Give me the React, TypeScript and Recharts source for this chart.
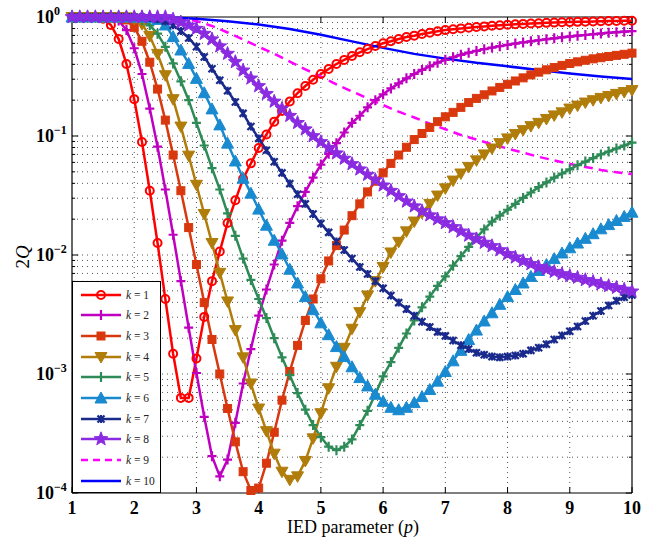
import React from "react";
import { LineChart, Line, XAxis, YAxis, ReferenceLine } from "recharts";

// IED parameter p, step 1/8
const P = [
  1, 1.125, 1.25, 1.375, 1.5, 1.625, 1.75, 1.875,
  2, 2.125, 2.25, 2.375, 2.5, 2.625, 2.75, 2.875,
  3, 3.125, 3.25, 3.375, 3.5, 3.625, 3.75, 3.875,
  4, 4.125, 4.25, 4.375, 4.5, 4.625, 4.75, 4.875,
  5, 5.125, 5.25, 5.375, 5.5, 5.625, 5.75, 5.875,
  6, 6.125, 6.25, 6.375, 6.5, 6.625, 6.75, 6.875,
  7, 7.125, 7.25, 7.375, 7.5, 7.625, 7.75, 7.875,
  8, 8.125, 8.25, 8.375, 8.5, 8.625, 8.75, 8.875,
  9, 9.125, 9.25, 9.375, 9.5, 9.625, 9.75, 9.875,
  10,
];

const K1 = [
  1, 1, 1, 0.995, 0.966, 0.857, 0.653, 0.403,
  0.204, 0.0891, 0.0347, 0.0126, 4.27e-3, 1.48e-3, 6.3e-4, 6.3e-4,
  1.35e-3, 3.02e-3, 6.03e-3, 0.0107, 0.0186, 0.0288, 0.0437, 0.0589,
  0.0794, 0.103, 0.132, 0.162, 0.195, 0.229, 0.263, 0.297,
  0.332, 0.366, 0.403, 0.436, 0.47, 0.505, 0.538, 0.57,
  0.601, 0.625, 0.653, 0.679, 0.697, 0.719, 0.738, 0.759,
  0.776, 0.789, 0.802, 0.813, 0.824, 0.834, 0.843, 0.853,
  0.861, 0.869, 0.875, 0.881, 0.887, 0.893, 0.897, 0.902,
  0.906, 0.91, 0.914, 0.918, 0.92, 0.925, 0.927, 0.929,
  0.931,
];

const K2 = [
  1, 1, 1, 1, 1, 0.989, 0.933, 0.776,
  0.546, 0.332, 0.17, 0.0813, 0.0355, 0.0148, 6.03e-3, 2.45e-3,
  1.02e-3, 4.37e-4, 2.04e-4, 1.38e-4, 1.91e-4, 3.89e-4, 8.32e-4, 1.62e-3,
  3.09e-3, 5.13e-3, 8.32e-3, 0.0132, 0.0186, 0.0257, 0.0339, 0.0447,
  0.0575, 0.0708, 0.0871, 0.107, 0.129, 0.148, 0.174, 0.2,
  0.224, 0.251, 0.277, 0.305, 0.332, 0.359, 0.385, 0.413,
  0.437, 0.459, 0.481, 0.501, 0.519, 0.537, 0.553, 0.569,
  0.583, 0.598, 0.612, 0.625, 0.638, 0.65, 0.662, 0.675,
  0.685, 0.697, 0.706, 0.716, 0.726, 0.736, 0.745, 0.753,
  0.762,
];

const K3 = [
  1, 1, 1, 1, 1, 1, 0.993, 0.944,
  0.818, 0.625, 0.417, 0.248, 0.136, 0.0692, 0.0347, 0.017,
  8.32e-3, 3.98e-3, 1.95e-3, 1.0e-3, 5.13e-4, 2.69e-4, 1.51e-4, 1.05e-4,
  1.1e-4, 1.78e-4, 3.24e-4, 6.03e-4, 1.05e-3, 1.74e-3, 2.82e-3, 4.27e-3,
  6.31e-3, 8.91e-3, 0.012, 0.0162, 0.0214, 0.0269, 0.0339, 0.0417,
  0.049, 0.0589, 0.0692, 0.0804, 0.0933, 0.105, 0.118, 0.132,
  0.145, 0.158, 0.174, 0.191, 0.207, 0.222, 0.239, 0.256,
  0.272, 0.29, 0.308, 0.326, 0.344, 0.36, 0.376, 0.392,
  0.407, 0.42, 0.433, 0.445, 0.455, 0.466, 0.476, 0.486,
  0.497,
];

const K4 = [
  1, 1, 1, 1, 1, 1, 1, 0.993,
  0.966, 0.871, 0.692, 0.49, 0.324, 0.204, 0.12, 0.0684,
  0.0389, 0.0221, 0.0126, 7.08e-3, 4.07e-3, 2.34e-3, 1.38e-3, 8.32e-4,
  5.13e-4, 3.31e-4, 2.14e-4, 1.51e-4, 1.29e-4, 1.38e-4, 1.86e-4, 2.88e-4,
  4.68e-4, 7.59e-4, 1.15e-3, 1.66e-3, 2.4e-3, 3.31e-3, 4.57e-3, 6.03e-3,
  7.94e-3, 0.0105, 0.0129, 0.0158, 0.0191, 0.0226, 0.0269, 0.0316,
  0.0363, 0.0422, 0.0484, 0.055, 0.0624, 0.07, 0.0785, 0.0871,
  0.0955, 0.104, 0.112, 0.121, 0.129, 0.139, 0.149, 0.158,
  0.17, 0.18, 0.191, 0.2, 0.209, 0.217, 0.226, 0.234,
  0.243,
];

const K5 = [
  1, 1, 1, 1, 1, 1, 1, 1,
  0.977, 0.933, 0.851, 0.724, 0.562, 0.407, 0.288, 0.2,
  0.129, 0.0832, 0.0537, 0.0355, 0.0224, 0.0145, 9.33e-3, 6.17e-3,
  4.27e-3, 2.95e-3, 2.0e-3, 1.38e-3, 9.77e-4, 6.92e-4, 5.01e-4, 3.72e-4,
  2.95e-4, 2.45e-4, 2.29e-4, 2.45e-4, 2.82e-4, 3.72e-4, 4.9e-4, 6.76e-4,
  9.55e-4, 1.26e-3, 1.66e-3, 2.19e-3, 2.82e-3, 3.63e-3, 4.47e-3, 5.5e-3,
  6.61e-3, 8.13e-3, 9.77e-3, 0.0117, 0.014, 0.0164, 0.0191, 0.0214,
  0.024, 0.0269, 0.0302, 0.0335, 0.0372, 0.0407, 0.0447, 0.0484,
  0.0525, 0.0569, 0.061, 0.0653, 0.07, 0.0741, 0.0785, 0.0832,
  0.0879,
];

const K6 = [
  1, 1, 1, 1, 1, 1, 1, 1,
  1, 1, 0.989, 0.955, 0.857, 0.684, 0.528, 0.407,
  0.305, 0.231, 0.169, 0.124, 0.0871, 0.0617, 0.0442, 0.0331,
  0.0243, 0.0178, 0.0133, 0.0102, 7.59e-3, 5.82e-3, 4.47e-3, 3.47e-3,
  2.69e-3, 2.14e-3, 1.7e-3, 1.4e-3, 1.15e-3, 9.33e-4, 7.94e-4, 6.76e-4,
  5.89e-4, 5.25e-4, 5.01e-4, 5.25e-4, 5.75e-4, 6.46e-4, 7.41e-4, 8.71e-4,
  1.05e-3, 1.29e-3, 1.58e-3, 1.95e-3, 2.34e-3, 2.79e-3, 3.27e-3, 3.85e-3,
  4.47e-3, 5.13e-3, 5.82e-3, 6.61e-3, 7.41e-3, 8.32e-3, 9.33e-3, 0.0104,
  0.0115, 0.0126, 0.0138, 0.0151, 0.0166, 0.018, 0.0195, 0.0211,
  0.0229,
];

const K7 = [
  1, 1, 1, 1, 1, 1, 1, 1,
  1, 0.993, 0.982, 0.959, 0.923, 0.851, 0.762, 0.667,
  0.562, 0.461, 0.368, 0.294, 0.24, 0.193, 0.155, 0.12,
  0.0955, 0.0759, 0.0608, 0.049, 0.0398, 0.0324, 0.0269, 0.0221,
  0.0184, 0.0155, 0.013, 0.011, 9.33e-3, 7.94e-3, 6.92e-3, 6.03e-3,
  5.25e-3, 4.57e-3, 3.98e-3, 3.51e-3, 3.09e-3, 2.75e-3, 2.48e-3, 2.26e-3,
  2.09e-3, 1.91e-3, 1.74e-3, 1.62e-3, 1.51e-3, 1.45e-3, 1.4e-3, 1.38e-3,
  1.4e-3, 1.43e-3, 1.48e-3, 1.58e-3, 1.66e-3, 1.78e-3, 1.95e-3, 2.11e-3,
  2.29e-3, 2.51e-3, 2.79e-3, 3.09e-3, 3.39e-3, 3.76e-3, 4.12e-3, 4.42e-3,
  4.62e-3,
];

const K8 = [
  1, 1, 1, 1, 1, 1, 1, 1,
  1, 1, 1, 1, 1, 0.955, 0.902, 0.851,
  0.798, 0.724, 0.65, 0.568, 0.492, 0.419, 0.356, 0.305,
  0.263, 0.226, 0.195, 0.17, 0.148, 0.129, 0.114, 0.1,
  0.0891, 0.0794, 0.0716, 0.0646, 0.0582, 0.0525, 0.0473, 0.0427,
  0.0385, 0.0347, 0.0313, 0.0282, 0.0257, 0.0234, 0.0216, 0.02,
  0.0186, 0.0172, 0.0158, 0.0146, 0.0136, 0.0127, 0.0119, 0.011,
  0.0102, 9.55e-3, 8.91e-3, 8.41e-3, 7.94e-3, 7.59e-3, 7.24e-3, 6.92e-3,
  6.68e-3, 6.46e-3, 6.17e-3, 5.96e-3, 5.69e-3, 5.5e-3, 5.31e-3, 5.13e-3,
  4.95e-3,
];

// k = 9 and k = 10 have no markers: coarser sampling
const P9 = [
  1, 1.25, 1.5, 1.75, 2, 2.25, 2.5, 2.75, 3, 3.25, 3.5, 3.75, 4, 4.25, 4.5, 4.75,
  5, 5.25, 5.5, 5.75, 6, 6.25, 6.5, 6.75, 7, 7.25, 7.5, 7.75, 8, 8.25, 8.5, 8.75,
  9, 9.25, 9.5, 9.75, 10,
];
const K9 = [
  1, 1, 1, 1, 1, 0.995, 0.986, 0.966, 0.925, 0.841, 0.741, 0.646, 0.562, 0.49, 0.422, 0.363,
  0.316, 0.272, 0.237, 0.207, 0.182, 0.16, 0.143, 0.127, 0.114, 0.102, 0.0933, 0.0851, 0.0785, 0.0724, 0.0668, 0.0624,
  0.0582, 0.055, 0.0519, 0.0495, 0.0479,
];

const P10 = [1, 1.5, 2, 2.5, 3, 3.5, 4, 4.5, 5, 5.5, 6, 6.5, 7, 7.5, 8, 8.5, 9, 9.5, 10];
const K10 = [1, 1, 1, 0.993, 0.966, 0.923, 0.865, 0.794, 0.708, 0.624, 0.55, 0.49, 0.447, 0.412, 0.385, 0.359, 0.335, 0.316, 0.301];

const X_TICKS = [1, 2, 3, 4, 5, 6, 7, 8, 9, 10];
const Y_TICKS = [1e-4, 1e-3, 1e-2, 1e-1, 1];
const Y_MINOR = [
  2e-4, 3e-4, 4e-4, 5e-4, 6e-4, 7e-4, 8e-4, 9e-4,
  2e-3, 3e-3, 4e-3, 5e-3, 6e-3, 7e-3, 8e-3, 9e-3,
  0.02, 0.03, 0.04, 0.05, 0.06, 0.07, 0.08, 0.09,
  0.2, 0.3, 0.4, 0.5, 0.6, 0.7, 0.8, 0.9,
];

const SERIES = [
  { key: "k1", label: "1", color: "#ff0000", shape: "circle", values: K1 },
  { key: "k2", label: "2", color: "#c000c0", shape: "plus", values: K2 },
  { key: "k3", label: "3", color: "#d9380f", shape: "square", values: K3 },
  { key: "k4", label: "4", color: "#b07d0b", shape: "tdown", values: K4 },
  { key: "k5", label: "5", color: "#2e8b57", shape: "plus", values: K5 },
  { key: "k6", label: "6", color: "#1a8ad0", shape: "tup", values: K6 },
  { key: "k7", label: "7", color: "#1a2a8c", shape: "aster", values: K7 },
  { key: "k8", label: "8", color: "#8a2be2", shape: "star", values: K8 },
];

const tableData = P.map((p, i) => {
  const row: any = { p };
  SERIES.forEach((s) => (row[s.key] = s.values[i]));
  return row;
});
const data9 = P9.map((p, i) => ({ p, v: K9[i] }));
const data10 = P10.map((p, i) => ({ p, v: K10[i] }));

const FONT = "'Liberation Serif', 'Times New Roman', serif";
const LW = 2.5;

function starPath(cx: number, cy: number, ro: number, ri: number) {
  let d = "";
  for (let i = 0; i < 10; i++) {
    const r = i % 2 === 0 ? ro : ri;
    const a = -Math.PI / 2 + (i * Math.PI) / 5;
    d += (i === 0 ? "M" : "L") + (cx + r * Math.cos(a)).toFixed(2) + "," + (cy + r * Math.sin(a)).toFixed(2);
  }
  return d + "Z";
}

const Marker = ({ shape, cx, cy, color }: any) => {
  if (cx == null || cy == null) return null;
  switch (shape) {
    case "circle":
      return <circle cx={cx} cy={cy} r={4} fill="none" stroke={color} strokeWidth={2} />;
    case "plus":
      return <path d={`M${cx - 4.5},${cy}H${cx + 4.5}M${cx},${cy - 5}V${cy + 5}`} stroke={color} strokeWidth={2.2} fill="none" />;
    case "square":
      return <rect x={cx - 4} y={cy - 4} width={8} height={8} fill={color} stroke={color} strokeWidth={1} />;
    case "tdown":
      return <path d={`M${cx - 6},${cy - 4.5}L${cx + 6},${cy - 4.5}L${cx},${cy + 6}Z`} fill={color} stroke={color} strokeWidth={1} />;
    case "tup":
      return <path d={`M${cx - 6},${cy + 5}L${cx + 6},${cy + 5}L${cx},${cy - 6}Z`} fill={color} stroke={color} strokeWidth={1} />;
    case "aster":
      return (
        <path
          d={`M${cx - 3.5},${cy - 3.5}L${cx + 3.5},${cy + 3.5}M${cx + 3.5},${cy - 3.5}L${cx - 3.5},${cy + 3.5}M${cx},${cy - 4}V${cy + 4}`}
          stroke={color}
          strokeWidth={2.2}
          fill="none"
        />
      );
    case "star":
      return <path d={starPath(cx, cy, 7.2, 3)} fill={color} stroke={color} strokeWidth={1} />;
    default:
      return null;
  }
};

const XTick = ({ x, y, payload }: any) => (
  <text x={x} y={y + 21} textAnchor="middle" fontFamily={FONT} fontWeight="bold" fontSize={18} fill="#000">
    {payload.value}
  </text>
);

const YTick = ({ x, y, payload }: any) => {
  const e = Math.round(Math.log10(payload.value));
  return (
    <text x={x - 36} y={y + 6} fontFamily={FONT} fontWeight="bold" fontSize={18} fill="#000">
      <tspan>10</tspan>
      <tspan dy={-8} fontSize={12}>{e === 0 ? "0" : "\u2212" + Math.abs(e)}</tspan>
    </text>
  );
};

const YLabel = () => (
  <text x={0} y={0} transform="translate(29,257) rotate(-90)" textAnchor="middle" fontFamily={FONT} fontSize={19} fill="#000">
    <tspan>2</tspan>
    <tspan fontStyle="italic">Q</tspan>
  </text>
);

const XLabel = () => (
  <text x={353} y={533} textAnchor="middle" fontFamily={FONT} fontSize={18} fill="#000">
    <tspan>IED parameter (</tspan>
    <tspan fontStyle="italic">p</tspan>
    <tspan>)</tspan>
  </text>
);

const LegendBox = () => (
  <div
    style={{
      position: "absolute",
      left: 72,
      top: 281,
      width: 89,
      height: 212,
      border: "1px solid #000",
      background: "#fff",
      boxSizing: "border-box",
    }}
  >
    {[...SERIES.map((s) => ({ ...s, dash: undefined as any })),
      { key: "k9", label: "9", color: "#ff00ff", shape: "none", dash: "7 5" },
      { key: "k10", label: "10", color: "#0000ff", shape: "none", dash: undefined }].map((s, i) => (
      <svg
        key={s.key}
        width={87}
        height={20}
        style={{ position: "absolute", left: 0, top: 2.5 + i * 20.7 }}
      >
        <line x1={8} x2={48} y1={10} y2={10} stroke={s.color} strokeWidth={LW} strokeDasharray={s.dash} />
        <Marker shape={s.shape} cx={28} cy={10} color={s.color} />
        <text x={53} y={14} fontFamily={FONT} fontSize={11.5} fill="#222">
          <tspan fontStyle="italic">k</tspan>
          <tspan> = {s.label}</tspan>
        </text>
      </svg>
    ))}
  </div>
);

export default function App() {
  return (
    <div style={{ position: "absolute", left: 0, top: 0, width: 656, height: 541, background: "#fff" }}>
      <LineChart width={656} height={541} data={tableData} margin={{ top: 17, right: 24, bottom: 0, left: 0 }}>
        <XAxis
          type="number"
          dataKey="p"
          domain={[1, 10]}
          ticks={X_TICKS}
          tick={<XTick />}
          tickLine={false}
          tickSize={0}
          tickMargin={0}
          height={48}
          axisLine={{ stroke: "#000", strokeWidth: 1.2 }}
          interval={0}
        />
        <YAxis
          type="number"
          scale="log"
          domain={[1e-4, 1]}
          ticks={Y_TICKS}
          tick={<YTick />}
          tickLine={false}
          tickSize={0}
          tickMargin={0}
          width={72}
          axisLine={{ stroke: "#000", strokeWidth: 1.2 }}
          interval={0}
        />
        {[...Y_MINOR, ...Y_TICKS.slice(1, 4)].map((v) => (
          <ReferenceLine key={"gy" + v} y={v} stroke="#555" strokeWidth={1} strokeDasharray="1 4" />
        ))}
        {X_TICKS.slice(1, 9).map((v) => (
          <ReferenceLine key={"gx" + v} x={v} stroke="#555" strokeWidth={1} strokeDasharray="1 4" />
        ))}
        {Y_MINOR.map((v) => (
          <ReferenceLine key={"tl" + v} segment={[{ x: 1, y: v }, { x: 1.05, y: v }]} stroke="#000" />
        ))}
        {Y_MINOR.map((v) => (
          <ReferenceLine key={"tr" + v} segment={[{ x: 9.95, y: v }, { x: 10, y: v }]} stroke="#000" />
        ))}
        {Y_TICKS.map((v) => (
          <ReferenceLine key={"TL" + v} segment={[{ x: 1, y: v }, { x: 1.1, y: v }]} stroke="#000" />
        ))}
        {Y_TICKS.map((v) => (
          <ReferenceLine key={"TR" + v} segment={[{ x: 9.9, y: v }, { x: 10, y: v }]} stroke="#000" />
        ))}
        {X_TICKS.map((v) => (
          <ReferenceLine key={"TB" + v} segment={[{ x: v, y: 1e-4 }, { x: v, y: 1.12e-4 }]} stroke="#000" />
        ))}
        {X_TICKS.map((v) => (
          <ReferenceLine key={"TT" + v} segment={[{ x: v, y: 0.89 }, { x: v, y: 1 }]} stroke="#000" />
        ))}
        <ReferenceLine y={1} stroke="#000" strokeWidth={1.2} />
        <ReferenceLine x={10} stroke="#000" strokeWidth={1.2} />
        {SERIES.map((s) => (
          <Line
            key={s.key}
            type="linear"
            dataKey={s.key}
            stroke={s.color}
            strokeWidth={LW}
            isAnimationActive={false}
            activeDot={false}
            dot={(props: any) => (
              <Marker key={s.key + "-" + props.index} shape={s.shape} cx={props.cx} cy={props.cy} color={s.color} />
            )}
          />
        ))}
        <Line
          data={data9}
          dataKey="v"
          type="linear"
          stroke="#ff00ff"
          strokeWidth={LW}
          strokeDasharray="9 6"
          dot={false}
          activeDot={false}
          isAnimationActive={false}
        />
        <Line
          data={data10}
          dataKey="v"
          type="linear"
          stroke="#0000ff"
          strokeWidth={LW}
          dot={false}
          activeDot={false}
          isAnimationActive={false}
        />
        <YLabel />
        <XLabel />
      </LineChart>
      <LegendBox />
    </div>
  );
}
